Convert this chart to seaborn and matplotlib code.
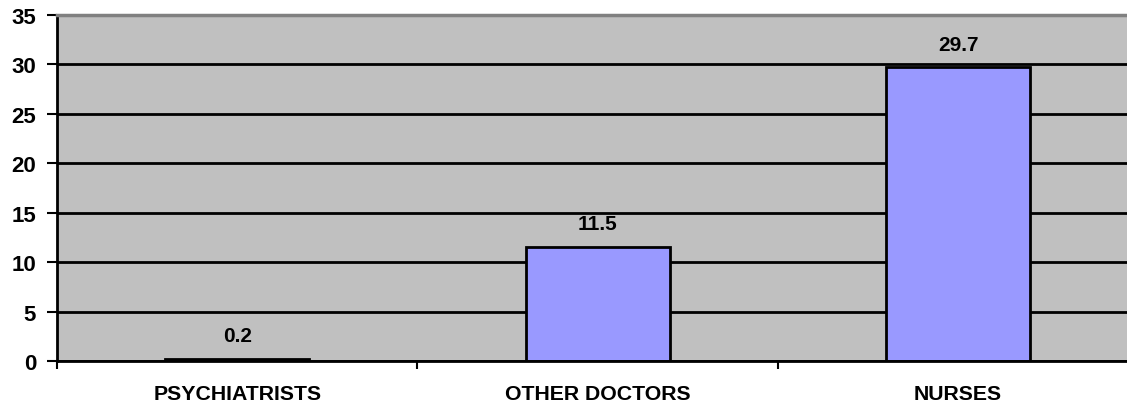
import matplotlib
matplotlib.use("Agg")
import matplotlib.pyplot as plt
import seaborn as sns
import pandas as pd
from matplotlib.ticker import FixedLocator

categories = ["PSYCHIATRISTS", "OTHER DOCTORS", "NURSES"]
values = [0.2, 11.5, 29.7]
value_labels = ["0.2", "11.5", "29.7"]
y_ticks = [0, 5, 10, 15, 20, 25, 30, 35]

sns.set_theme(style="white")
plt.rcParams['font.family'] = ['Liberation Sans', 'DejaVu Sans']
plt.rcParams['font.weight'] = 'bold'

df = pd.DataFrame({"category": categories, "value": values})

fig = plt.figure(figsize=(11.27, 4.06), dpi=100)
ax = fig.add_axes([57/1127, 1 - 362/406, 1 - 57/1127 + 0.01, (362 - 16)/406])
ax.set_facecolor("#C0C0C0")

sns.barplot(data=df, x="category", y="value", ax=ax, color="#9999FF",
            saturation=1, width=0.40, edgecolor="black", linewidth=2)

ax.set_ylim(0, 35)
ax.set_xlim(-0.5, 2.5)
ax.set_yticks(y_ticks)
ax.set_axisbelow(True)
ax.yaxis.grid(True, color="black", linewidth=2)
ax.xaxis.grid(False)

for i, (v, lab) in enumerate(zip(values, value_labels)):
    ax.annotate(lab, (i, v), xytext=(0, 10), textcoords="offset points",
                ha="center", va="bottom", fontsize=15, fontweight="bold",
                color="black")

ax.set_xlabel("")
ax.set_ylabel("")
ax.tick_params(axis="y", which="major", left=True, length=7, width=1.5,
               color="black", labelsize=16, pad=8, labelcolor="black")
ax.tick_params(axis="x", which="major", bottom=False, length=0,
               labelsize=15.3, pad=16.5, labelcolor="black")
ax.xaxis.set_minor_locator(FixedLocator([-0.5, 0.5, 1.5, 2.5]))
ax.tick_params(axis="x", which="minor", bottom=True, length=6, width=1.5,
               color="black")
for lbl in ax.get_xticklabels() + ax.get_yticklabels():
    lbl.set_fontweight("bold")

ax.spines["left"].set_color("black")
ax.spines["left"].set_linewidth(2)
ax.spines["bottom"].set_color("black")
ax.spines["bottom"].set_linewidth(2)
ax.spines["top"].set_color("#808080")
ax.spines["top"].set_linewidth(2.5)
ax.spines["right"].set_visible(False)

fig.savefig("out.png", dpi=100, facecolor="white")
